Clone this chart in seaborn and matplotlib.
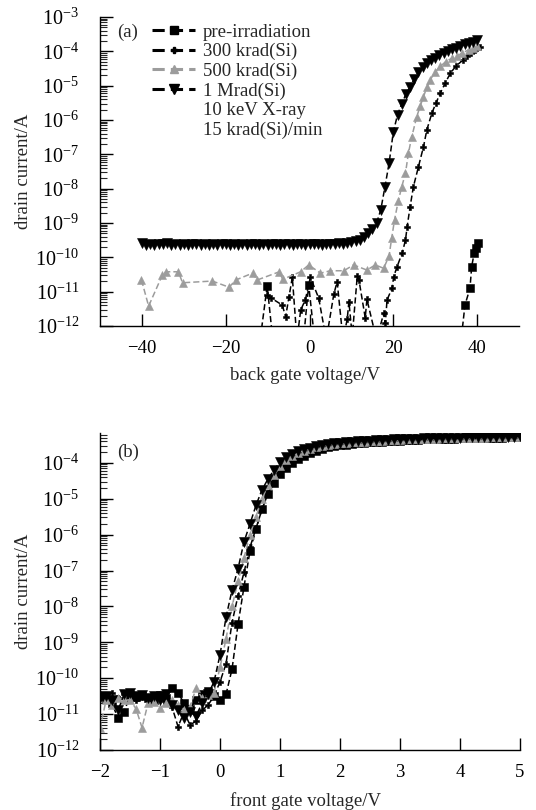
import numpy as np
import matplotlib
matplotlib.use("Agg")
import matplotlib.pyplot as plt
import seaborn as sns
from matplotlib.lines import Line2D
from matplotlib.ticker import LogLocator, NullFormatter, LogFormatterMathtext

# ---- (a) back gate sweep, log10 of drain current (A) ----
bg_v_1mrad = list(range(-40, 41))
bg_log_1mrad = [-9.58, -9.63, -9.60, -9.64, -9.61, -9.62, -9.59, -9.64, -9.60, -9.63,
                -9.61, -9.65, -9.60, -9.62, -9.64, -9.60, -9.63, -9.61, -9.64, -9.60,
                -9.62, -9.65, -9.61, -9.63, -9.60, -9.64, -9.62, -9.60, -9.63, -9.61,
                -9.64, -9.60, -9.62, -9.63, -9.60, -9.62, -9.64, -9.61, -9.60, -9.63,
                -9.61, -9.62, -9.60, -9.63, -9.61, -9.60, -9.62, -9.59, -9.60, -9.58,
                -9.56, -9.52, -9.48, -9.40, -9.30, -9.17, -9.00, -8.62, -7.95, -7.25,
                -6.35, -5.85, -5.53, -5.25, -5.03, -4.80, -4.60, -4.46, -4.35, -4.26,
                -4.18, -4.11, -4.05, -3.99, -3.94, -3.89, -3.84, -3.80, -3.76, -3.72,
                -3.68]

bg_v_500k = [-40.1, -38.4, -35.1, -34.3, -31.3, -30.3, -23.2, -19.2, -17.6, -13.6,
             -12.5, -7.2, -6.4, -2.1, -0.2, 2.6, 5.0, 8.2, 10.5, 13.7,
             15.7, 17.7, 19.0, 19.6, 20.3, 21.2, 22.0, 22.9, 23.6, 24.4,
             25.6, 26.4, 27.2, 28.0, 28.8, 30.0, 31.2, 32.5, 34.0, 35.2,
             36.5, 38.0, 39.0, 40.0]
bg_log_500k = [-10.66, -11.42, -10.51, -10.42, -10.42, -10.74, -10.69, -10.87, -10.66, -10.46,
               -10.66, -10.42, -10.64, -10.42, -10.22, -10.46, -10.39, -10.39, -10.22, -10.37,
               -10.22, -10.32, -9.95, -9.45, -8.90, -8.35, -7.95, -7.55, -6.97, -6.49,
               -5.90, -5.60, -5.32, -5.05, -4.83, -4.60, -4.44, -4.30, -4.20, -4.13,
               -4.05, -3.95, -3.90, -3.84]

bg_v_300k = [-10.1, -9.1, -6.5, -5.7, -4.9, -4.1, -3.0, -2.1, -1.0, 0.2,
             2.2, 4.0, 5.8, 6.6, 8.0, 9.0, 9.4, 10.2, 11.4, 11.8,
             13.3, 13.7, 16.0, 17.7, 18.1, 18.5, 19.7, 20.1, 20.9, 22.1,
             22.9, 23.3, 24.0, 24.8, 26.0, 27.2, 28.0, 29.2, 30.2, 31.2,
             32.4, 33.6, 35.0, 36.7, 37.6, 38.5, 39.5, 40.7]
bg_log_300k = [-11.10, -11.19, -11.39, -11.73, -11.15, -10.58, -12.40, -11.53, -11.24, -10.58,
               -11.19, -12.40, -11.07, -10.71, -12.40, -11.80, -11.29, -12.30, -10.54, -10.66,
               -11.76, -11.22, -12.40, -11.63, -11.92, -11.24, -10.90, -10.56, -10.27, -9.88,
               -9.50, -9.11, -8.53, -7.94, -7.36, -6.78, -6.29, -5.80, -5.50, -5.22,
               -4.92, -4.64, -4.42, -4.25, -4.15, -4.05, -3.95, -3.86]

bg_v_pre = [-12.0, -10.1, -8.6, -1.6, -0.2, 1.4, 36.0, 37.1, 38.3, 38.7, 39.3, 39.7, 40.1]
bg_log_pre = [-12.6, -10.83, -12.6, -12.6, -10.80, -12.6, -12.6, -11.39, -10.90, -10.27,
              -9.88, -9.74, -9.57]

# ---- (b) front gate sweep ----
fg_v = [-2.0, -1.9, -1.8, -1.7, -1.6, -1.5, -1.4, -1.3, -1.2, -1.1,
        -1.0, -0.9, -0.8, -0.7, -0.6, -0.5, -0.4, -0.3, -0.2, -0.1,
        0.0, 0.1, 0.2, 0.3, 0.4, 0.5, 0.6, 0.7, 0.8, 0.9, 1.0,
        1.1, 1.2, 1.3, 1.4, 1.5, 1.6, 1.7, 1.8, 1.9, 2.0,
        2.1, 2.2, 2.3, 2.4, 2.5, 2.6, 2.7, 2.8, 2.9, 3.0,
        3.1, 3.2, 3.3, 3.4, 3.5, 3.6, 3.7, 3.8, 3.9, 4.0,
        4.1, 4.2, 4.3, 4.4, 4.5, 4.6, 4.7, 4.8, 4.9, 5.0]
fg_log_1mrad = [-10.55, -10.50, -10.62, -10.90, -10.45, -10.40, -10.50, -10.48, -10.55, -10.50,
                -10.60, -10.45, -10.75, -10.90, -11.10, -10.95, -11.05, -10.70, -10.45, -10.10,
                -9.35, -8.30, -7.55, -6.95, -6.20, -5.70, -5.18, -4.75, -4.45, -4.20, -3.98,
                -3.85, -3.75, -3.68, -3.62, -3.58, -3.54, -3.51, -3.48, -3.46, -3.44,
                -3.42, -3.41, -3.40, -3.39, -3.38, -3.37, -3.36, -3.36, -3.35, -3.34,
                -3.34, -3.33, -3.33, -3.32, -3.32, -3.31, -3.31, -3.30, -3.30, -3.30,
                -3.29, -3.29, -3.29, -3.28, -3.28, -3.28, -3.27, -3.27, -3.27, -3.26]
fg_log_500k = [-11.40, -10.62, -10.75, -10.55, -10.60, -10.61, -10.85, -11.38, -10.70, -10.65,
               -10.84, -10.70, -10.61, -10.75, -10.90, -10.80, -10.28, -10.55, -10.47, -10.40,
               -9.70, -8.90, -8.00, -7.30, -6.65, -6.00, -5.50, -5.00, -4.63, -4.35, -4.10,
               -3.93, -3.80, -3.72, -3.66, -3.61, -3.57, -3.53, -3.50, -3.48, -3.46,
               -3.44, -3.43, -3.42, -3.41, -3.40, -3.39, -3.38, -3.37, -3.37, -3.36,
               -3.35, -3.35, -3.34, -3.34, -3.33, -3.33, -3.32, -3.32, -3.31, -3.31,
               -3.31, -3.30, -3.30, -3.30, -3.29, -3.29, -3.29, -3.28, -3.28, -3.28]
fg_log_300k = [-10.45, -10.50, -10.40, -10.55, -10.45, -10.52, -10.60, -10.48, -10.55, -10.50,
               -10.45, -10.70, -10.80, -11.35, -10.95, -11.30, -11.20, -10.90, -10.75, -10.50,
               -10.10, -9.60, -8.45, -7.70, -7.05, -6.35, -5.82, -5.30, -4.85, -4.53, -4.27,
               -4.05, -3.90, -3.80, -3.72, -3.66, -3.61, -3.57, -3.53, -3.50, -3.48,
               -3.46, -3.44, -3.43, -3.42, -3.41, -3.40, -3.39, -3.38, -3.38, -3.37,
               -3.36, -3.36, -3.35, -3.35, -3.34, -3.34, -3.33, -3.33, -3.32, -3.32,
               -3.32, -3.31, -3.31, -3.30, -3.30, -3.30, -3.29, -3.29, -3.29, -3.28]
fg_log_pre = [-10.50, -10.55, -10.70, -11.12, -10.95, -10.48, -10.52, -10.50, -10.55, -10.60,
              -10.48, -10.55, -10.28, -10.40, -10.70, -10.85, -10.60, -10.45, -10.35, -10.50,
              -10.60, -10.45, -9.75, -8.50, -7.45, -6.45, -5.85, -5.28, -4.88, -4.55, -4.30,
              -4.14, -4.00, -3.90, -3.80, -3.72, -3.66, -3.61, -3.57, -3.54, -3.51,
              -3.49, -3.47, -3.45, -3.44, -3.43, -3.42, -3.41, -3.40, -3.39, -3.38,
              -3.37, -3.37, -3.36, -3.35, -3.35, -3.34, -3.34, -3.33, -3.33, -3.32,
              -3.32, -3.31, -3.31, -3.31, -3.30, -3.30, -3.30, -3.29, -3.29, -3.29]

labels = ["pre-irradiation", "300 krad(Si)", "500 krad(Si)", "1 Mrad(Si)"]
notes = ["10 keV X-ray", "15 krad(Si)/min"]
GREY = "#9c9c9c"
# marker, colour, size per dose
styles = [("s", "black", 5.5), ("P", "black", 5.0), ("^", GREY, 6.0), ("v", "black", 6.5)]
DASH = (0, (4, 2))

sns.set_style("ticks")
plt.rcParams["font.family"] = ["Liberation Serif", "DejaVu Serif"]
plt.rcParams["mathtext.fontset"] = "stix"
plt.rcParams["font.size"] = 13


def draw(ax, v, logi, style):
    marker, color, ms = style
    sns.lineplot(x=v, y=10.0 ** np.asarray(logi), ax=ax, estimator=None, sort=False,
                 marker=marker, color=color, markersize=ms, markeredgecolor=color,
                 markeredgewidth=0.4, linestyle=DASH, linewidth=1.1, legend=False)


def style_axis(ax, ylim):
    ax.set_yscale("log")
    ax.set_ylim(*ylim)
    ax.yaxis.set_major_locator(LogLocator(base=10, numticks=20))
    ax.yaxis.set_minor_locator(LogLocator(base=10, subs=np.arange(2, 10), numticks=200))
    ax.yaxis.set_minor_formatter(NullFormatter())
    ax.yaxis.set_major_formatter(LogFormatterMathtext())
    ax.tick_params(axis="both", which="major", direction="in", length=9, width=1,
                   colors="black")
    ax.tick_params(axis="y", which="major", pad=15, labelsize=14.5)
    ax.tick_params(axis="x", which="major", pad=10, labelsize=13.5)
    ax.tick_params(axis="y", which="minor", direction="in", length=5, width=0.8)
    ax.tick_params(axis="x", which="minor", bottom=False)
    for s in ["left", "bottom"]:
        ax.spines[s].set_linewidth(1.0)
        ax.spines[s].set_color("black")
    sns.despine(ax=ax)
    ax.set_ylabel("drain current/A", fontsize=13.5)
    ax.yaxis.set_label_coords(-0.163, 0.5)


fig = plt.figure(figsize=(5.36, 8.10), dpi=100)
ax1 = fig.add_axes([0.1866, 0.5975, 0.7817, 0.3815])
ax2 = fig.add_axes([0.1866, 0.0741, 0.7836, 0.3914])

# (a)
draw(ax1, bg_v_pre, bg_log_pre, styles[0])
draw(ax1, bg_v_300k, bg_log_300k, styles[1])
draw(ax1, bg_v_500k, bg_log_500k, styles[2])
draw(ax1, bg_v_1mrad, bg_log_1mrad, styles[3])
style_axis(ax1, (1e-12, 1e-3))
ax1.set_xlim(-50, 50)
ax1.set_xticks([-40, -20, 0, 20, 40])
ax1.set_xlabel("back gate voltage/V", fontsize=13.5)
ax1.xaxis.set_label_coords(0.49, -0.133)
ax1.text(0.04, 0.951, "(a)", transform=ax1.transAxes, fontsize=13.5, va="center")

handles = [Line2D([], [], marker=m, color=c, markersize=ms, markeredgecolor=c,
                  linestyle=DASH, linewidth=2.2) for m, c, ms in styles]
handles += [Line2D([], [], linestyle="none") for _ in notes]
ax1.legend(handles, labels + notes, loc="upper left", bbox_to_anchor=(0.124, 0.978),
           frameon=False, borderpad=0, borderaxespad=0, handlelength=2.3,
           handletextpad=0.4, labelspacing=0.12, fontsize=13.5)

# (b)
draw(ax2, fg_v, fg_log_pre, styles[0])
draw(ax2, fg_v, fg_log_300k, styles[1])
draw(ax2, fg_v, fg_log_500k, styles[2])
draw(ax2, fg_v, fg_log_1mrad, styles[3])
style_axis(ax2, (1e-12, 6.8e-4))
ax2.set_xlim(-2, 5)
ax2.set_xticks([-2, -1, 0, 1, 2, 3, 4, 5])
ax2.set_xlabel("front gate voltage/V", fontsize=13.5)
ax2.xaxis.set_label_coords(0.49, -0.134)
ax2.text(0.04, 0.94, "(b)", transform=ax2.transAxes, fontsize=13.5, va="center")

fig.savefig("out.png", dpi=100)
